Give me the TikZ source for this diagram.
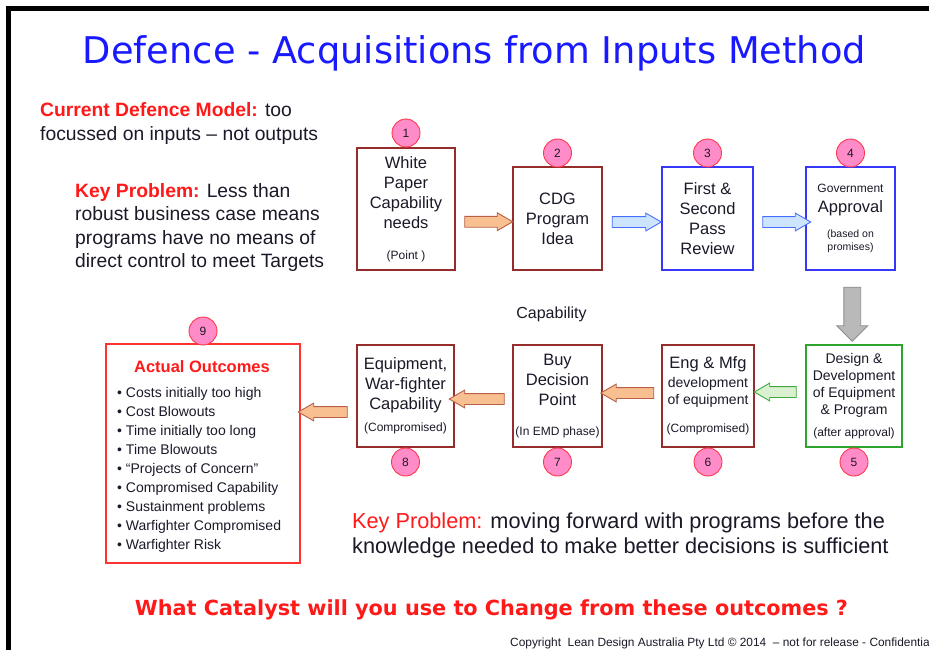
\documentclass[tikz,border=0pt]{standalone}
\usepackage{fontspec}
\usepackage{graphicx}
\setmainfont{Liberation Sans}
\newfontfamily\comicfont{DejaVu Sans}
\usetikzlibrary{shapes.arrows, positioning}

\definecolor{ink}{RGB}{25,25,40}
\definecolor{titleblue}{RGB}{25,25,255}
\definecolor{textred}{RGB}{255,25,25}
\definecolor{boxred}{RGB}{150,45,45}
\definecolor{boxblue}{RGB}{55,55,250}
\definecolor{boxgreen}{RGB}{45,165,45}
\definecolor{outred}{RGB}{255,50,50}
\definecolor{numred}{RGB}{255,55,75}
\definecolor{numpink}{RGB}{255,140,200}
\definecolor{orangefill}{RGB}{248,192,145}
\definecolor{orangeline}{RGB}{185,95,70}
\definecolor{bluefill}{RGB}{205,228,255}
\definecolor{blueline}{RGB}{70,110,255}
\definecolor{greenfill}{RGB}{218,240,208}
\definecolor{greenline}{RGB}{60,170,60}
\definecolor{greyfill}{RGB}{185,185,185}
\definecolor{greyline}{RGB}{140,140,140}

\newcommand\sm[1]{{\fontsize{12}{14}\selectfont #1}}
\newcommand\md[1]{{\fontsize{14}{17}\selectfont #1}}
\newcommand\tn[1]{{\fontsize{10.5}{12}\selectfont #1}}

\begin{document}
\begin{tikzpicture}[x=1pt, y=-1pt,
    stage/.style={draw=boxred, line width=1.1pt, align=center, inner sep=0pt, text=ink,
      font=\fontsize{16.5}{20}\selectfont},
    num/.style={circle, draw=numred, fill=numpink, line width=0.9pt, minimum size=28pt,
      inner sep=0pt, text=ink, font=\fontsize{12}{12}\selectfont},
    fat/.style={single arrow, line width=0.9pt, inner sep=5pt, single arrow head extend=3.5pt,
      single arrow tip angle=60, minimum height=48pt},
    brown arrow/.style={fat, draw=orangeline, fill=orangefill},
    blue arrow/.style={fat, draw=blueline, fill=bluefill},
    green arrow/.style={fat, draw=greenline, fill=greenfill},
    grey arrow/.style={fat, draw=greyline, fill=greyfill, inner sep=8pt,
      single arrow head extend=7pt, single arrow tip angle=90, minimum height=54pt},
    note/.style={align=left, inner sep=0pt, text=ink}
  ]
  \useasboundingbox (0,0) rectangle (929,650);
  \draw[line width=5pt] (8.5,650) -- (8.5,8.5) -- (929,8.5);

  % title and side notes
  \node[text=titleblue, anchor=base] (title) at (474.5,64)
    {\resizebox{783pt}{!}{\comicfont Defence - Acquisitions from Inputs Method}};
  \node[note, anchor=north west, font=\fontsize{19.3}{24}\selectfont] (model) at (40,102)
    {\textcolor{textred}{\bfseries Current Defence Model:} too\\focussed on inputs – not outputs};
  \node[note, anchor=north west, font=\fontsize{19.3}{23.5}\selectfont] (keyleft) at (75,183)
    {\textcolor{textred}{\bfseries Key Problem:} Less than\\robust business case means\\programs have no means of\\direct control to meet Targets};

  % top row
  \node[stage, minimum width=98pt, minimum height=122pt] (paper) at (406,209)
    {White\\Paper\\Capability\\needs\\[11pt]\sm{(Point )}};
  \node[stage, minimum width=89pt, minimum height=103pt] (cdg) at (557.5,218.5)
    {CDG\\Program\\Idea};
  \node[stage, draw=boxblue, minimum width=91pt, minimum height=103pt] (review) at (707.5,218.5)
    {First \&\\Second\\Pass\\Review};
  \node[stage, draw=boxblue, minimum width=89pt, minimum height=103pt] (approval) at (850.5,218.5)
    {\sm{Government}\\Approval\\[5pt]\tn{(based on}\\[-7pt]\tn{promises)}};

  % bottom row
  \node[stage, draw=boxgreen, minimum width=96pt, minimum height=102pt,
    font=\fontsize{14}{17}\selectfont] (design) at (854,396)
    {Design \&\\Development\\of Equipment\\\& Program\\[5pt]\sm{(after approval)}};
  \node[stage, minimum width=92pt, minimum height=102pt] (engmfg) at (708,396)
    {Eng \& Mfg\\[-1pt]\md{development}\\[-3pt]\md{of equipment}\\[8pt]\sm{(Compromised)}};
  \node[stage, minimum width=89pt, minimum height=102pt] (buy) at (557.5,396)
    {Buy\\Decision\\Point\\[10pt]\sm{(In EMD phase)}};
  \node[stage, minimum width=97pt, minimum height=102pt] (equip) at (405.5,396)
    {Equipment,\\War-fighter\\Capability\\[2pt]\sm{(Compromised)}};
  \node[text=ink, font=\fontsize{16}{16}\selectfont] (caplabel) at (551.5,314) {Capability};

  % outcomes
  \node[draw=outred, line width=1.1pt, minimum width=194pt, minimum height=219pt] (outcomes) at (203,453.5) {};
  \node[text=textred, anchor=base, font=\bfseries\fontsize{16.5}{20}\selectfont] (outtitle) at (202,372) {Actual Outcomes};
  \node[note, anchor=north west, font=\fontsize{14}{19}\selectfont] (outlist) at (117,386.8)
    {• Costs initially too high\\• Cost Blowouts\\• Time initially too long\\• Time Blowouts\\• “Projects of Concern”\\• Compromised Capability\\• Sustainment problems\\• Warfighter Compromised\\• Warfighter Risk};

  % numbers
  \node[num, above=0pt of paper] (n1) {1};
  \node[num, above=-1pt of cdg] (n2) {2};
  \node[num, above=-1pt of review] (n3) {3};
  \node[num, above=-1pt of approval] (n4) {4};
  \node[num, below=0pt of design] (n5) {5};
  \node[num, below=0pt of engmfg] (n6) {6};
  \node[num, below=0pt of buy] (n7) {7};
  \node[num, below=0pt of equip] (n8) {8};
  \node[num, above=-2pt of outcomes] (n9) {9};

  % block arrows
  \path (paper.east) -- node[brown arrow, yshift=-8pt] (a12) {} (cdg.west);
  \path (cdg.east) -- node[blue arrow, yshift=-3.5pt, minimum height=49pt] (a23) {} (review.west);
  \path (review.east) -- node[blue arrow, yshift=-3.5pt, xshift=2.5pt] (a34) {} (approval.west);
  \path (approval.south) -- node[grey arrow, shape border rotate=270, yshift=-2.5pt] (a45) {} (design.north);
  \path (design.west) -- node[green arrow, shape border rotate=180, yshift=4pt, minimum height=42pt] (a56) {} (engmfg.east);
  \path (engmfg.west) -- node[brown arrow, shape border rotate=180, yshift=3pt, minimum height=53pt] (a67) {} (buy.east);
  \path (buy.west) -- node[brown arrow, shape border rotate=180, yshift=-3pt, xshift=-2pt, minimum height=55pt] (a78) {} (equip.east);
  \path (equip.west) -- node[brown arrow, shape border rotate=180, yshift=12.75pt, xshift=-1pt, minimum height=49pt] (a89) {} (outcomes.east);

  % bottom notes
  \node[note, anchor=north west, font=\fontsize{21.7}{24.5}\selectfont] (keybottom) at (352,513)
    {\textcolor{textred}{Key Problem:} moving forward with programs before the\\knowledge needed to make better decisions is sufficient};
  \node[text=textred, anchor=base] (catalyst) at (491.5,615)
    {\resizebox{713pt}{!}{\comicfont\bfseries What Catalyst will you use to Change from these outcomes ?}};
  \node[text=ink, anchor=base west, inner sep=0pt, font=\fontsize{11.9}{12}\selectfont] (copy) at (510,646)
    {Copyright\ \ Lean Design Australia Pty Ltd © 2014\ \ – not for release - Confidentia};
\end{tikzpicture}
\end{document}
